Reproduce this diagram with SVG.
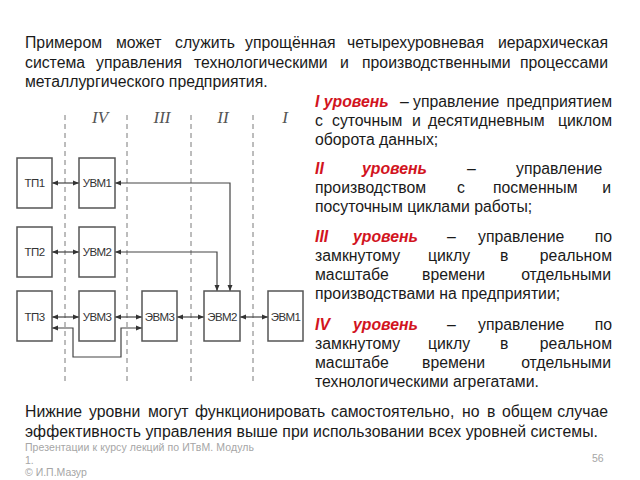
<svg xmlns="http://www.w3.org/2000/svg" width="640" height="480" viewBox="0 0 640 480">
<style>
.t{font-family:"Liberation Sans",Arial,sans-serif;font-size:15.8px;fill:#1a1a1a}
.r{font-weight:bold;font-style:italic;fill:#d2141e}
.e{text-anchor:end}
.ft{font-family:"Liberation Sans",Arial,sans-serif;font-size:10.5px;fill:#a6a6a6}
.rom{font-family:"Liberation Serif","Times New Roman",serif;font-style:italic;font-size:17px;fill:#555;text-anchor:middle}
.dash{stroke:#7a7a7a;stroke-width:1;stroke-dasharray:5 4;fill:none}
.box rect{fill:#fff;stroke:#555;stroke-width:1.5}
.box text{font-family:"Liberation Sans",Arial,sans-serif;font-size:11.5px;fill:#333;text-anchor:middle;letter-spacing:-0.6px}
.c{fill:none;stroke:#444;stroke-width:1.2;marker-start:url(#ah);marker-end:url(#ah)}
</style>
<defs>
<marker id="ah" markerUnits="userSpaceOnUse" markerWidth="6" markerHeight="6" refX="6" refY="3" orient="auto-start-reverse">
<path d="M0,0.5 L6,3 L0,5.5 Z" fill="#333"/>
</marker>
</defs>
<rect width="640" height="480" fill="#fff"/>

<!-- Intro text -->
<text class="t" y="48"><tspan x="25">Примером</tspan><tspan x="116">может</tspan><tspan x="175">служить</tspan><tspan x="245">упрощённая</tspan><tspan x="347">четырехуровневая</tspan></text>
<text class="t e" x="608" y="48">иерархическая</text>
<text class="t" y="68"><tspan x="25">система</tspan><tspan x="96">управления</tspan><tspan x="194">технологическими</tspan><tspan x="340">и</tspan><tspan x="362">производственными</tspan></text>
<text class="t e" x="608" y="68">процессами</text>
<text class="t" x="25" y="87">металлургического предприятия.</text>

<!-- Level descriptions -->
<text class="t" y="107"><tspan x="315" class="r">I уровень</tspan><tspan x="400">–</tspan><tspan x="413">управление</tspan></text>
<text class="t e" x="612" y="107">предприятием</text>
<text class="t" y="126"><tspan x="315">с</tspan><tspan x="332">суточным</tspan><tspan x="412">и</tspan><tspan x="428">десятидневным</tspan></text>
<text class="t e" x="612" y="126">циклом</text>
<text class="t" x="315" y="145">оборота данных;</text>

<text class="t" y="174"><tspan x="315" class="r">II</tspan><tspan x="362" class="r">уровень</tspan><tspan x="467">–</tspan><tspan x="516">управление</tspan></text>
<text class="t" y="193"><tspan x="315">производством</tspan><tspan x="457">с</tspan><tspan x="493">посменным</tspan></text>
<text class="t e" x="611" y="193">и</text>
<text class="t" x="315" y="212">посуточным циклами работы;</text>

<text class="t" y="242"><tspan x="315" class="r">III</tspan><tspan x="353" class="r">уровень</tspan><tspan x="447">–</tspan><tspan x="478">управление</tspan></text>
<text class="t e" x="612" y="242">по</text>
<text class="t" y="261"><tspan x="315">замкнутому</tspan><tspan x="428">циклу</tspan><tspan x="500">в</tspan></text>
<text class="t e" x="612" y="261">реальном</text>
<text class="t" y="280"><tspan x="315">масштабе</tspan><tspan x="422">времени</tspan></text>
<text class="t e" x="611" y="280">отдельными</text>
<text class="t" x="315" y="299">производствами на предприятии;</text>

<text class="t" y="330"><tspan x="315" class="r">IV</tspan><tspan x="353" class="r">уровень</tspan><tspan x="447">–</tspan><tspan x="478">управление</tspan></text>
<text class="t e" x="612" y="330">по</text>
<text class="t" y="349"><tspan x="315">замкнутому</tspan><tspan x="428">циклу</tspan><tspan x="500">в</tspan></text>
<text class="t e" x="612" y="349">реальном</text>
<text class="t" y="368"><tspan x="315">масштабе</tspan><tspan x="422">времени</tspan></text>
<text class="t e" x="611" y="368">отдельными</text>
<text class="t" x="315" y="387">технологическими агрегатами.</text>

<!-- Conclusion -->
<text class="t" y="417"><tspan x="25">Нижние</tspan><tspan x="89">уровни</tspan><tspan x="148">могут</tspan><tspan x="195">функционировать</tspan><tspan x="331">самостоятельно,</tspan><tspan x="462">но</tspan><tspan x="487">в</tspan><tspan x="502">общем</tspan></text>
<text class="t e" x="608" y="417">случае</text>
<text class="t" x="25" y="437" textLength="573" lengthAdjust="spacing">эффективность управления выше при использовании всех уровней системы.</text>

<!-- Footer -->
<text class="ft" x="25" y="451" textLength="229" lengthAdjust="spacing">Презентации к курсу лекций по ИТвМ. Модуль</text>
<text class="ft" x="25" y="464">1.</text>
<text class="ft" x="25" y="476">© И.П.Мазур</text>
<text class="ft" x="592" y="462">56</text>

<!-- Level separators and labels -->
<g id="levels">
<line class="dash" x1="65" y1="115" x2="65" y2="382"/>
<line class="dash" x1="127" y1="115" x2="127" y2="382"/>
<line class="dash" x1="191" y1="115" x2="191" y2="382"/>
<line class="dash" x1="253" y1="115" x2="253" y2="382"/>
<text class="rom" x="100" y="123">IV</text>
<text class="rom" x="162" y="123">III</text>
<text class="rom" x="223" y="123">II</text>
<text class="rom" x="285" y="123">I</text>
</g>

<!-- Connectors -->
<g id="connectors">
<path class="c" d="M52,183 H79"/>
<path class="c" d="M230,291 V183 H115"/>
<path class="c" d="M52,252 H79"/>
<path class="c" d="M217,291 V252 H115"/>
<path class="c" d="M52,317 H79"/>
<path class="c" d="M115,317 H142"/>
<path class="c" d="M177,317 H204"/>
<path class="c" d="M240,317 H268"/>
<path class="c" d="M52,328 H73 V357 H121 V328 H142"/>
</g>

<!-- Nodes -->
<g id="tp1" class="box"><rect x="17" y="158" width="35" height="50"/><text x="34.5" y="187">ТП1</text></g>
<g id="uvm1" class="box"><rect x="79" y="158" width="36" height="50"/><text x="97" y="187">УВМ1</text></g>
<g id="tp2" class="box"><rect x="17" y="227" width="35" height="50"/><text x="34.5" y="256">ТП2</text></g>
<g id="uvm2" class="box"><rect x="79" y="227" width="36" height="50"/><text x="97" y="256">УВМ2</text></g>
<g id="tp3" class="box"><rect x="17" y="291" width="35" height="50"/><text x="34.5" y="321">ТП3</text></g>
<g id="uvm3" class="box"><rect x="79" y="291" width="36" height="50"/><text x="97" y="321">УВМ3</text></g>
<g id="evm3" class="box"><rect x="142" y="291" width="35" height="50"/><text x="159.5" y="321">ЭВМ3</text></g>
<g id="evm2" class="box"><rect x="204" y="291" width="36" height="50"/><text x="222" y="321">ЭВМ2</text></g>
<g id="evm1" class="box"><rect x="268" y="291" width="35" height="50"/><text x="285.5" y="321">ЭВМ1</text></g>
</svg>
